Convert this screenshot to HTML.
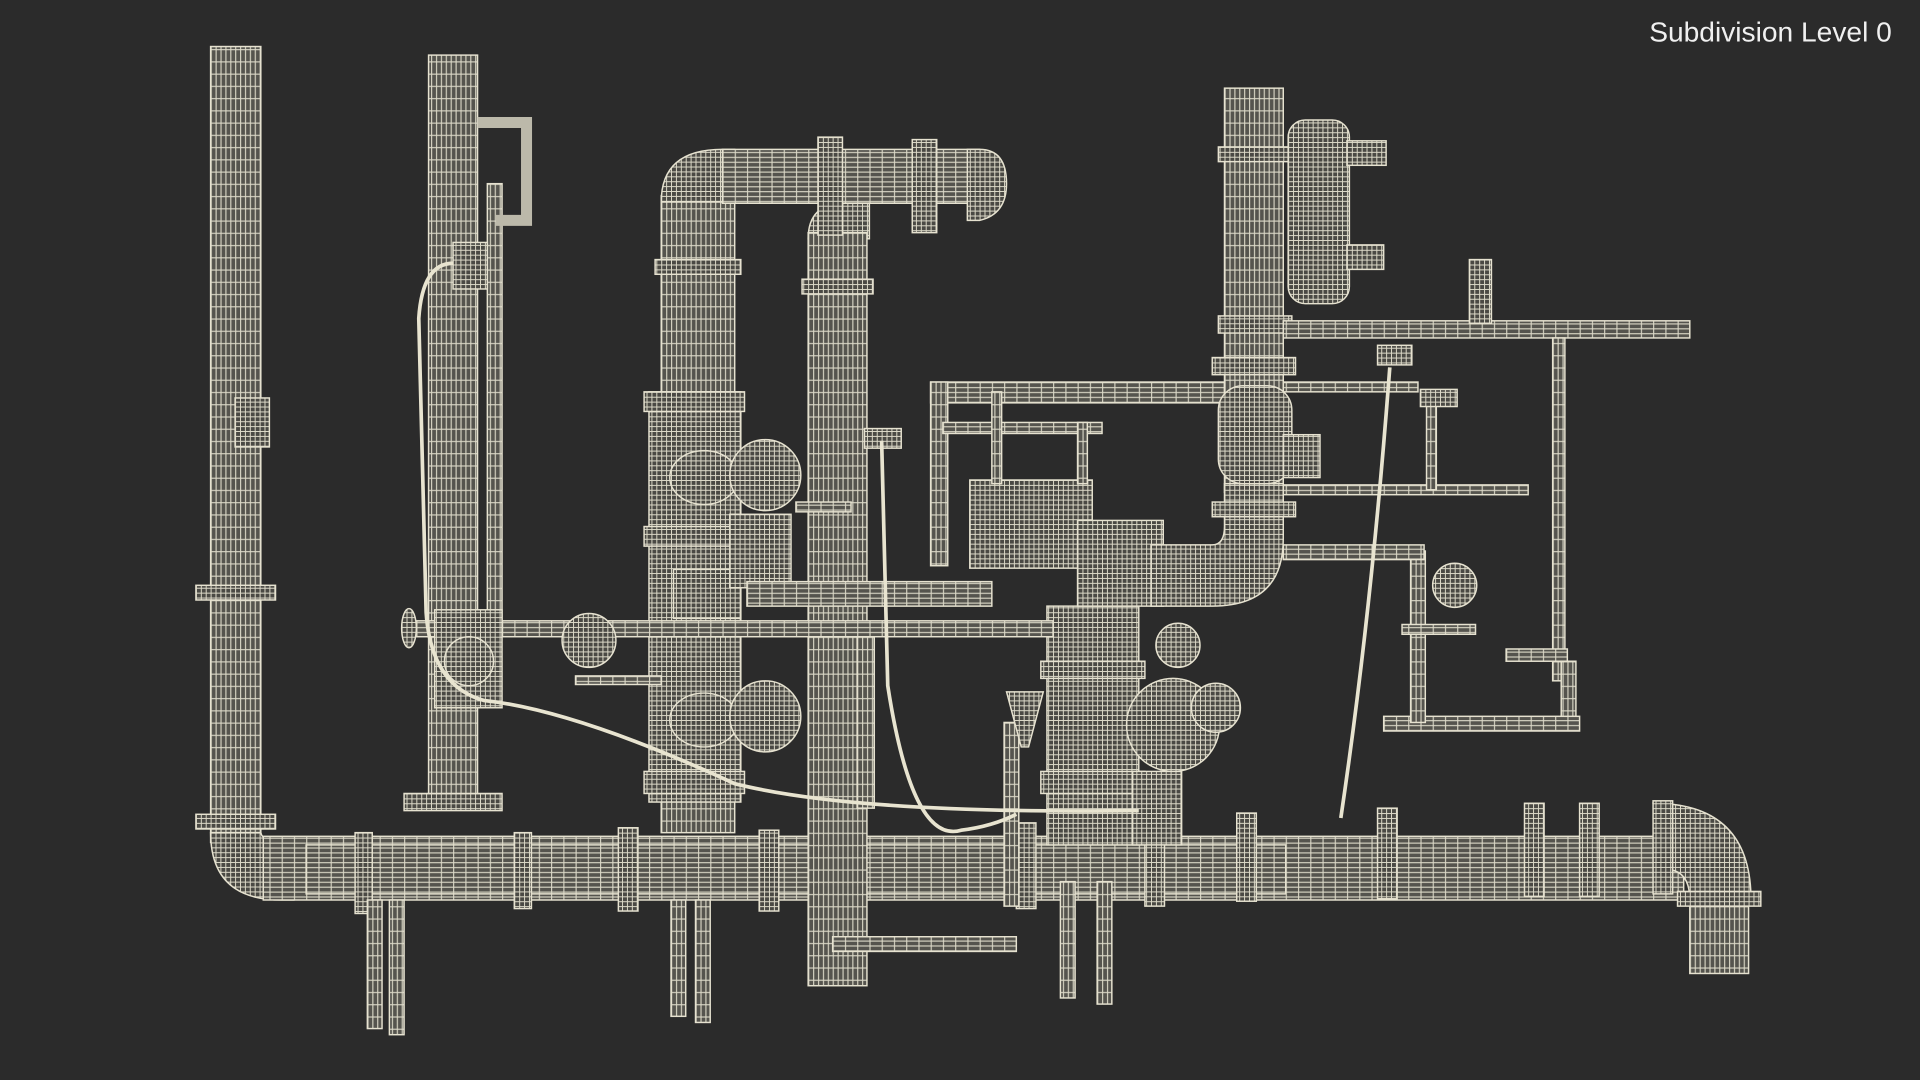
<!DOCTYPE html>
<html><head><meta charset="utf-8"><style>
html,body{margin:0;padding:0;background:#2b2b2b;width:1920px;height:1080px;overflow:hidden}
svg{display:block}
</style></head><body>
<svg width="1920" height="1080" viewBox="0 0 1568 882" preserveAspectRatio="none" xmlns="http://www.w3.org/2000/svg">
<defs>
<pattern id="g" width="4" height="4" patternUnits="userSpaceOnUse">
<rect width="4" height="4" fill="#4a4944"/>
<path d="M0 0.4H4M0.4 0V4" stroke="#dcd9c8" stroke-width="0.8"/>
</pattern>
<pattern id="v" width="4" height="10" patternUnits="userSpaceOnUse">
<rect width="4" height="10" fill="#55544e"/>
<path d="M0.5 0V10M0 0.5H4" stroke="#dcd9c8" stroke-width="0.9"/>
</pattern>
<pattern id="h" width="10" height="4" patternUnits="userSpaceOnUse">
<rect width="10" height="4" fill="#55544e"/>
<path d="M0 0.5H10M0.5 0V4" stroke="#dcd9c8" stroke-width="0.9"/>
</pattern>
</defs>
<rect width="1568" height="882" fill="#2b2b2b"/>
<g stroke="#e6e2d0" stroke-width="1.2">
<!-- left tall pipes -->
<rect x="172" y="38" width="41" height="650" fill="url(#v)"/>
<rect x="350" y="45" width="40" height="615" fill="url(#v)"/>
<rect x="398" y="150" width="12" height="360" fill="url(#v)"/>
<path d="M390 100 H430 V180 H405" fill="none" stroke-width="9" stroke="#bcb9aa"/>
<!-- elbow left -->
<path d="M172 680 Q172 735 230 735 L240 735 L240 685 Q215 690 213 680Z" fill="url(#g)"/>
<!-- main horizontal pipe -->
<rect x="215" y="683" width="1160" height="52" fill="url(#h)"/>
<rect x="250" y="690" width="800" height="40" fill="url(#h)"/>
<!-- right end elbow -->
<path d="M1350 656 Q1430 656 1430 735 L1380 735 Q1380 710 1360 710Z" fill="url(#g)"/>
<rect x="1380" y="732" width="48" height="63" fill="url(#v)"/>
<rect x="1370" y="728" width="68" height="12" fill="url(#g)"/>
<!-- flanges on main pipe -->
<g fill="url(#g)">
<rect x="290" y="680" width="14" height="66"/><rect x="420" y="680" width="14" height="62"/>
<rect x="505" y="676" width="16" height="68"/><rect x="620" y="678" width="16" height="66"/>
<rect x="830" y="672" width="16" height="70"/><rect x="935" y="668" width="16" height="72"/>
<rect x="1010" y="664" width="16" height="72"/><rect x="1125" y="660" width="16" height="74"/>
<rect x="1245" y="656" width="16" height="76"/><rect x="1290" y="656" width="16" height="76"/>
<rect x="1350" y="654" width="16" height="76"/>
<rect x="160" y="665" width="65" height="12"/><rect x="160" y="478" width="65" height="12"/>
<rect x="330" y="648" width="80" height="14"/>
</g>
<!-- legs -->
<g fill="url(#v)">
<rect x="300" y="735" width="12" height="105"/><rect x="318" y="735" width="12" height="110"/>
<rect x="548" y="735" width="12" height="95"/><rect x="568" y="735" width="12" height="100"/>
<rect x="866" y="720" width="12" height="95"/><rect x="896" y="720" width="12" height="100"/>
</g>
<!-- big U pipe -->
<rect x="540" y="160" width="60" height="520" fill="url(#v)"/>
<path d="M540 165 Q540 122 590 122 L600 122 L600 165Z" fill="url(#g)"/>
<rect x="590" y="122" width="210" height="44" fill="url(#h)"/>
<path d="M800 122 Q822 122 822 150 Q822 175 800 180 L790 180 L790 122Z" fill="url(#g)"/>
<path d="M660 195 Q660 166 690 166 L710 166 L710 195Z" fill="url(#g)"/>
<rect x="660" y="190" width="48" height="615" fill="url(#v)"/>
<g fill="url(#g)">
<rect x="668" y="112" width="20" height="80"/><rect x="745" y="114" width="20" height="76"/>
<rect x="535" y="212" width="70" height="12"/><rect x="655" y="228" width="58" height="12"/>
</g>
<!-- valve stack 1 -->
<rect x="530" y="320" width="75" height="335" fill="url(#g)"/>
<rect x="526" y="320" width="82" height="16" fill="url(#g)"/>
<rect x="526" y="430" width="82" height="16" fill="url(#g)"/>
<rect x="526" y="630" width="82" height="18" fill="url(#g)"/>
<rect x="550" y="465" width="55" height="40" fill="url(#g)"/>
<ellipse cx="575" cy="390" rx="28" ry="22" fill="url(#g)"/>
<ellipse cx="575" cy="588" rx="28" ry="22" fill="url(#g)"/>
<circle cx="625" cy="388" r="29" fill="url(#g)"/>
<circle cx="625" cy="585" r="29" fill="url(#g)"/>
<rect x="596" y="420" width="50" height="60" fill="url(#g)"/>
<!-- valve stack 2 -->
<rect x="855" y="495" width="75" height="195" fill="url(#g)"/>
<rect x="850" y="630" width="85" height="18" fill="url(#g)"/>
<rect x="850" y="540" width="85" height="14" fill="url(#g)"/>
<circle cx="958" cy="592" r="38" fill="url(#g)"/>
<circle cx="993" cy="578" r="20" fill="url(#g)"/>
<circle cx="962" cy="527" r="18" fill="url(#g)"/>
<rect x="925" y="630" width="40" height="60" fill="url(#g)"/>
<rect x="820" y="590" width="12" height="150" fill="url(#v)"/>
<path d="M822 565 L852 565 L840 610 L834 610Z" fill="url(#g)"/>
<!-- box -->
<rect x="792" y="392" width="100" height="72" fill="url(#g)"/>
<rect x="880" y="425" width="70" height="70" fill="url(#g)"/>
<!-- horizontal mid pipes -->
<rect x="330" y="507" width="530" height="13" fill="url(#h)"/>
<rect x="610" y="475" width="200" height="20" fill="url(#h)"/>
<rect x="760" y="312" width="240" height="17" fill="url(#h)"/>
<rect x="760" y="312" width="14" height="150" fill="url(#v)"/>
<rect x="770" y="345" width="130" height="9" fill="url(#h)"/>
<rect x="810" y="320" width="8" height="75" fill="url(#v)"/>
<rect x="880" y="345" width="8" height="50" fill="url(#v)"/>
<rect x="706" y="350" width="30" height="16" fill="url(#g)"/>
<rect x="650" y="410" width="45" height="8" fill="url(#h)"/>
<!-- left valve assembly -->
<rect x="355" y="498" width="55" height="80" fill="url(#g)"/>
<circle cx="383" cy="540" r="20" fill="url(#g)"/>
<ellipse cx="334" cy="513" rx="6" ry="16" fill="url(#g)"/>
<circle cx="481" cy="523" r="22" fill="url(#g)"/>
<rect x="470" y="552" width="70" height="7" fill="url(#h)"/>
<rect x="370" y="198" width="28" height="38" fill="url(#g)"/>
<rect x="192" y="325" width="28" height="40" fill="url(#g)"/>
<!-- right column -->
<rect x="1000" y="72" width="48" height="330" fill="url(#v)"/>
<rect x="990" y="292" width="68" height="14" fill="url(#g)"/>
<rect x="995" y="258" width="60" height="14" fill="url(#g)"/>
<rect x="995" y="120" width="60" height="12" fill="url(#g)"/>
<path d="M1000 395 L1048 395 L1048 440 Q1048 495 990 495 L940 495 L940 445 L990 445 Q1000 445 1000 430Z" fill="url(#g)"/>
<rect x="995" y="315" width="60" height="80" rx="20" fill="url(#g)"/>
<rect x="1048" y="355" width="30" height="35" fill="url(#g)"/>
<rect x="990" y="410" width="68" height="12" fill="url(#g)"/>
<rect x="1052" y="98" width="50" height="150" rx="14" fill="url(#g)"/>
<rect x="1100" y="115" width="32" height="20" fill="url(#g)"/>
<rect x="1100" y="200" width="30" height="20" fill="url(#g)"/>
<rect x="1048" y="262" width="332" height="14" fill="url(#h)"/>
<rect x="1200" y="212" width="18" height="52" fill="url(#g)"/>
<rect x="1268" y="276" width="10" height="280" fill="url(#v)"/>
<rect x="1230" y="530" width="50" height="10" fill="url(#h)"/>
<rect x="1275" y="540" width="12" height="55" fill="url(#v)"/>
<rect x="1130" y="585" width="160" height="12" fill="url(#h)"/>
<rect x="1152" y="450" width="12" height="140" fill="url(#v)"/>
<rect x="1048" y="445" width="115" height="12" fill="url(#h)"/>
<rect x="1048" y="312" width="110" height="8" fill="url(#h)"/>
<rect x="1048" y="396" width="200" height="8" fill="url(#h)"/>
<rect x="1165" y="320" width="8" height="80" fill="url(#v)"/>
<rect x="1160" y="318" width="30" height="14" fill="url(#g)"/>
<rect x="1125" y="282" width="28" height="16" fill="url(#g)"/>
<circle cx="1188" cy="478" r="18" fill="url(#g)"/>
<rect x="1145" y="510" width="60" height="8" fill="url(#h)"/>
<!-- small lower pipes -->
<rect x="680" y="765" width="150" height="12" fill="url(#h)"/>
<rect x="700" y="520" width="14" height="140" fill="url(#v)"/>
</g>
<!-- cables -->
<g fill="none" stroke="#e8e4d0" stroke-width="3">
<path d="M370 215 Q345 215 342 260 L348 500 Q352 560 395 572 Q470 580 600 640 Q700 665 930 662"/>
<path d="M720 360 L725 560 Q745 690 785 678 Q810 675 830 665"/>
<path d="M1135 300 Q1120 500 1095 668"/>
</g>
<text x="1545" y="34" text-anchor="end" font-family="Liberation Sans, sans-serif" font-size="23" fill="#f0f0f0">Subdivision Level 0</text>
</svg>
</body></html>
